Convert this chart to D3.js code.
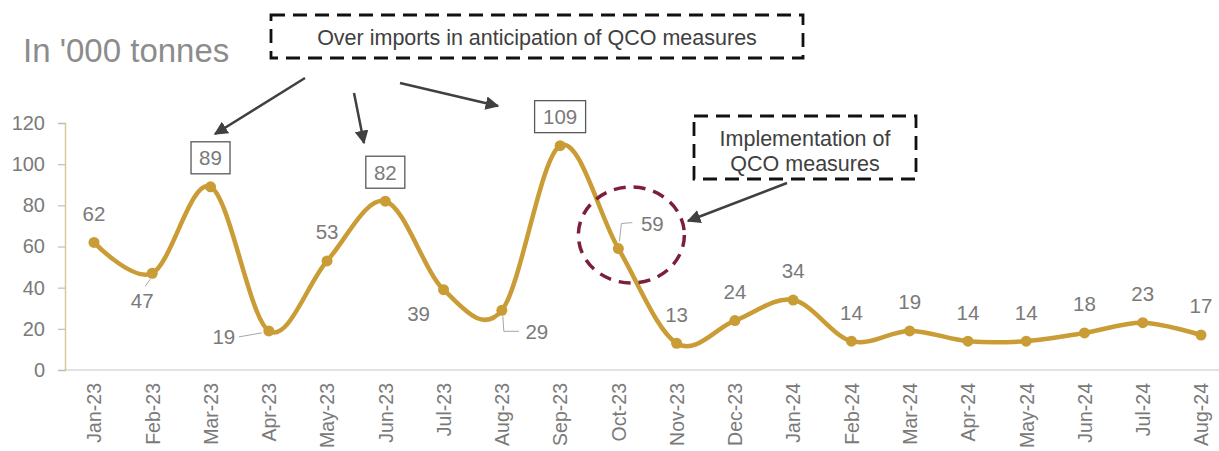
<!DOCTYPE html>
<html>
<head>
<meta charset="utf-8">
<script src="https://cdn.jsdelivr.net/npm/d3@7"></script>
<style>
  html, body { margin: 0; padding: 0; background: #fff; }
  svg { display: block; font-family: "Liberation Sans", Arial, sans-serif; }
</style>
</head>
<body>
<svg id="chart" width="1219" height="451"></svg>
<script>
// ---- data ----
const months = ["Jan-23","Feb-23","Mar-23","Apr-23","May-23","Jun-23","Jul-23","Aug-23","Sep-23","Oct-23","Nov-23","Dec-23","Jan-24","Feb-24","Mar-24","Apr-24","May-24","Jun-24","Jul-24","Aug-24"];
const imports = [62,47,89,19,53,82,39,29,109,59,13,24,34,14,19,14,14,18,23,17];
const yTicks = [0,20,40,60,80,100,120];
const unitTitle = "In '000 tonnes";
const note1 = "Over imports in anticipation of QCO measures";
const note2 = ["Implementation of", "QCO measures"];
const boxedMonths = ["Mar-23","Jun-23","Sep-23"];
const highlightMonth = "Oct-23";

// ---- drawing ----
const svg = d3.select("#chart");
const W = 1219, H = 451;
const gold = "#C99C35";
const grey = "#7A7A7A";
const dark = "#404040";

const x = d3.scalePoint().domain(months).range([94, 1201]);
const y = d3.scaleLinear().domain([0, 120]).range([370, 123]);

const defs = svg.append("defs");
defs.append("marker").attr("id","arrow").attr("viewBox","0 0 10 10")
  .attr("refX",9).attr("refY",5).attr("markerWidth",5.5).attr("markerHeight",5.5)
  .attr("markerUnits","strokeWidth").attr("orient","auto")
  .append("path").attr("d","M0,0 L10,5 L0,10 z").attr("fill",dark);

// title
svg.append("text").attr("x",23).attr("y",62).attr("font-size",33).attr("fill","#8C8C8C").text(unitTitle);

// x axis
const xAxis = svg.append("g").attr("transform",`translate(0,${y(0)})`)
  .call(d3.axisBottom(x).tickSize(0).tickPadding(0));
xAxis.select(".domain").remove();
svg.append("line").attr("x1",64).attr("x2",W).attr("y1",y(0)).attr("y2",y(0))
  .attr("stroke","#D9D9D9").attr("stroke-width",1.3);
xAxis.selectAll("text")
  .attr("transform","rotate(-90)")
  .attr("text-anchor","end")
  .attr("x",-13).attr("y",0).attr("dy","0.35em")
  .attr("font-size",19.5).attr("font-family","Liberation Sans, Arial, sans-serif")
  .attr("fill",grey);

// y axis
const yAxis = svg.append("g").attr("transform","translate(65,0)")
  .call(d3.axisLeft(y).tickValues(yTicks).tickSize(7).tickPadding(13));
yAxis.select(".domain").attr("stroke","#D8C79A").attr("stroke-width",1.5);
yAxis.selectAll(".tick line").attr("stroke","#BFBFBF").attr("stroke-width",1.2);
yAxis.selectAll("text").attr("font-size",20).attr("fill",grey)
  .attr("font-family","Liberation Sans, Arial, sans-serif");

// series
const pts = months.map((m,i)=>({m, v: imports[i]}));
const line = d3.line().x(d=>x(d.m)).y(d=>y(d.v)).curve(d3.curveCardinal.tension(0));
svg.append("path").datum(pts).attr("d",line).attr("fill","none")
  .attr("stroke",gold).attr("stroke-width",4.5).attr("stroke-linejoin","round");
svg.append("g").selectAll("circle").data(pts).join("circle")
  .attr("cx",d=>x(d.m)).attr("cy",d=>y(d.v)).attr("r",5.5).attr("fill",gold);

// data labels: default above the point, with a few placed elsewhere
const labelOffset = {
  "Feb-23":[-10,27], "Apr-23":[-45,6], "Jul-23":[-25,24],
  "Aug-23":[35,21], "Oct-23":[34,-25]
};
const lbl = svg.append("g");
pts.forEach(d=>{
  const o = labelOffset[d.m] || [0,-29];
  const cx = x(d.m)+o[0], cy = y(d.v)+o[1];
  if (boxedMonths.includes(d.m)) {
    const w = String(d.v).length > 2 ? 51 : 39;
    lbl.append("rect").attr("x",cx-w/2).attr("y",cy-16).attr("width",w).attr("height",32)
      .attr("fill","#fff").attr("stroke","#595959").attr("stroke-width",1.3);
  }
  lbl.append("text").attr("x",cx).attr("y",cy).attr("dy","0.36em")
    .attr("text-anchor","middle").attr("font-size",20.5).attr("fill",grey).text(d.v);
});

// leader lines for offset labels
const leader = (m, pts2) => {
  const px = x(m);
  const py = y(imports[months.indexOf(m)]);
  svg.append("polyline").attr("points", pts2.map(p=>[px+p[0],py+p[1]].join(",")).join(" "))
    .attr("fill","none").attr("stroke","#A6A6A6").attr("stroke-width",1);
};
leader("Feb-23", [[-2,6],[-7,13]]);
leader("Apr-23", [[-7,2],[-30,6]]);
leader("Aug-23", [[1,6],[2,21],[17,21]]);
leader("Oct-23", [[1,-7],[3,-25],[14,-26]]);

// highlight ellipse
svg.append("ellipse").attr("cx",x(highlightMonth)+13).attr("cy",235).attr("rx",53).attr("ry",48)
  .attr("fill","none").attr("stroke","#7B2038").attr("stroke-width",3.5).attr("stroke-dasharray","12 8");

// annotation boxes
svg.append("rect").attr("x",271).attr("y",15).attr("width",532).attr("height",43)
  .attr("fill","#fff").attr("stroke","#111").attr("stroke-width",2.8).attr("stroke-dasharray","14 8");
svg.append("text").attr("x",537).attr("y",37).attr("dy","0.36em").attr("text-anchor","middle")
  .attr("font-size",21.5).attr("fill",dark).text(note1);

svg.append("rect").attr("x",694).attr("y",116).attr("width",222).attr("height",63)
  .attr("fill","#fff").attr("stroke","#111").attr("stroke-width",2.8).attr("stroke-dasharray","14 8");
note2.forEach((t,i)=>{
  svg.append("text").attr("x",805).attr("y",138+i*25).attr("dy","0.36em").attr("text-anchor","middle")
    .attr("font-size",21.5).attr("fill",dark).text(t);
});

// arrows
const arrows = [
  [[305,78],[215,134]],
  [[354,93],[364,143]],
  [[400,83],[498,106]],
  [[787,183],[688,221]]
];
arrows.forEach(a=>{
  svg.append("line").attr("x1",a[0][0]).attr("y1",a[0][1]).attr("x2",a[1][0]).attr("y2",a[1][1])
    .attr("stroke",dark).attr("stroke-width",2.5).attr("marker-end","url(#arrow)");
});
</script>
</body>
</html>
